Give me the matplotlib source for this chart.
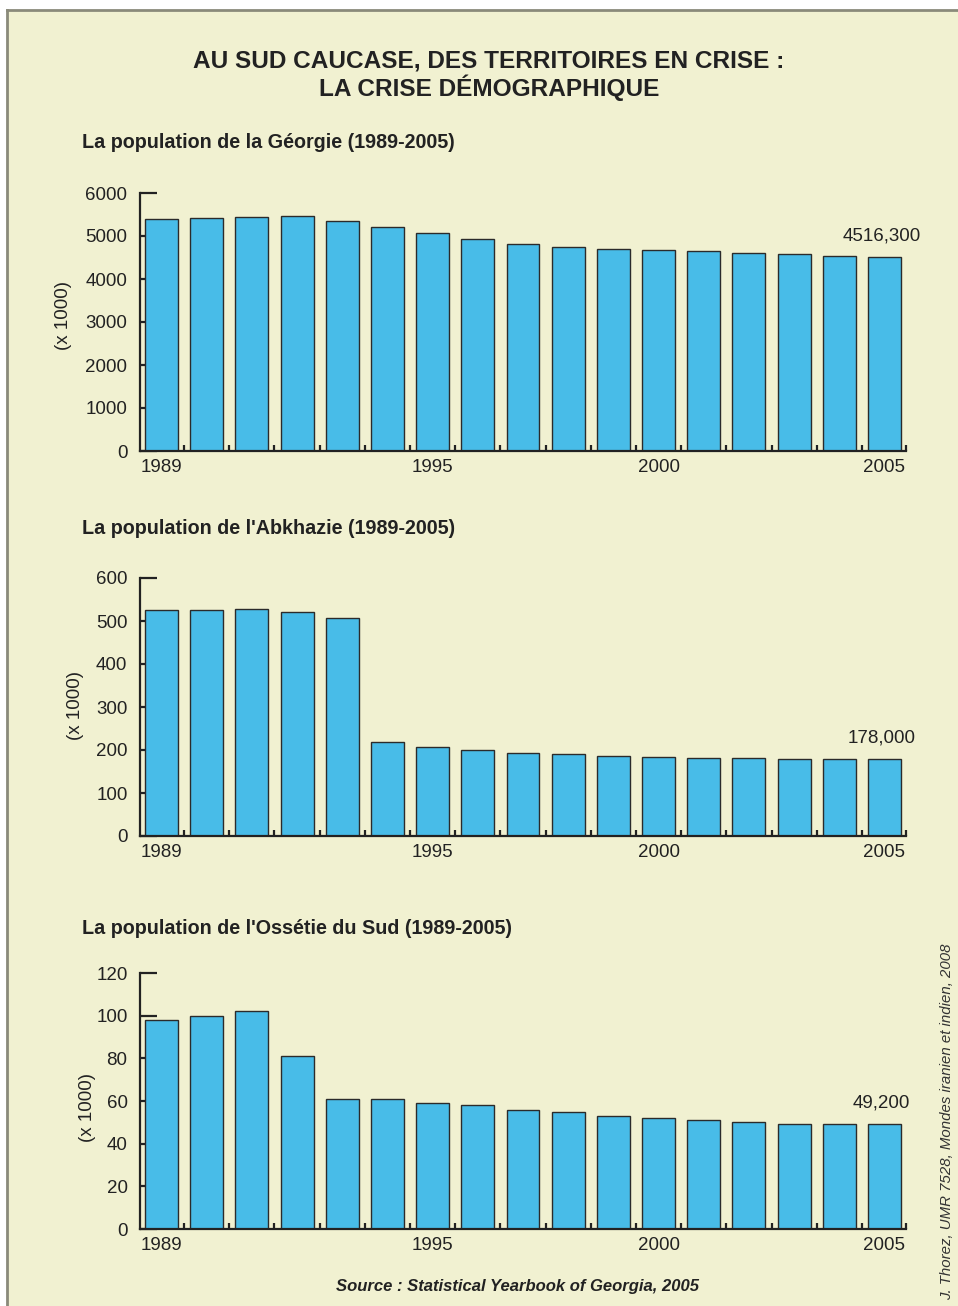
import numpy as np
import matplotlib.pyplot as plt
from matplotlib.patches import Rectangle

plt.rcParams['font.family'] = ['Liberation Sans', 'DejaVu Sans']

# data (x 1000 inhabitants)
years = list(range(1989, 2006))
georgia = [5400.8, 5424.4, 5453.0, 5467.0, 5346.2, 5207.2, 5061.1, 4935.5, 4813.9,
           4751.3, 4709.2, 4671.3, 4645.4, 4614.1, 4580.0, 4542.6, 4516.3]
abkhazia = [525, 525, 527, 522, 506, 218, 208, 200, 194, 190, 187, 184, 182, 181,
            179.5, 178.5, 178]
ossetia = [98, 100, 102, 81, 61, 61, 59, 58, 56, 55, 53, 52, 51, 50, 49.2, 49.2, 49.2]
label_years = [1989, 1995, 2000, 2005]
last_labels = ['4516,300', '178,000', '49,200']
subtitles = ["La population de la Géorgie (1989-2005)",
             "La population de l'Abkhazie (1989-2005)",
             "La population de l'Ossétie du Sud (1989-2005)"]

W, H = 958, 1306
BG = '#F1F1D1'
BAR = '#48BCE8'
DARK = '#222222'

fig = plt.figure(figsize=(W / 100, H / 100), dpi=100)
fig.patch.set_facecolor('white')

def fx(px):
    return px / W

def fy(py):
    return 1 - py / H

# cream panel with grey top/left border
fig.patches.append(Rectangle((fx(7), -0.02), 1.05, fy(10) + 0.02, transform=fig.transFigure,
                             facecolor=BG, edgecolor='none', zorder=-10))
fig.add_artist(plt.Line2D([fx(7), 1], [fy(10), fy(10)], transform=fig.transFigure,
                          color='#8a8a7a', lw=2))
fig.add_artist(plt.Line2D([fx(7), fx(7)], [0, fy(10)], transform=fig.transFigure,
                          color='#8a8a7a', lw=2))

fig.text(fx(489), fy(75), "AU SUD CAUCASE, DES TERRITOIRES EN CRISE :\nLA CRISE DÉMOGRAPHIQUE",
         ha='center', va='center', fontsize=17.6, weight='bold', color=DARK, linespacing=1.1)

charts = [
    (georgia, 6000, 1000, 193, 451, 143, (63, 316)),
    (abkhazia, 600, 100, 578, 836, 529, (75, 706)),
    (ossetia, 120, 20, 973, 1229, 928, (87, 1108)),
]

x = np.arange(len(years))
for k, (vals, ymax, step, top, bot, sub_y, ylab) in enumerate(charts):
    ax = fig.add_axes([fx(140), fy(bot), fx(906) - fx(140), fy(top) - fy(bot)])
    ax.set_facecolor('none')
    ax.set_axisbelow(True)
    ax.bar(x, vals, width=0.73, color=BAR, edgecolor='#2b2b2b', linewidth=1.0)
    ax.set_xlim(-0.476, 16.476)
    ax.set_ylim(0, ymax)
    for s in ['top', 'right']:
        ax.spines[s].set_visible(False)
    for s in ['left', 'bottom']:
        ax.spines[s].set_linewidth(1.6)
        ax.spines[s].set_color(DARK)
    ax.set_yticks(np.arange(0, ymax + step, step))
    ax.tick_params(axis='y', direction='in', length=12, width=1.6, pad=9,
                   labelsize=13.5, color=DARK, labelcolor=DARK)
    ax.set_xticks([years.index(y) for y in label_years])
    ax.set_xticklabels([str(y) for y in label_years])
    ax.tick_params(axis='x', which='major', direction='in', length=0, pad=6,
                   labelsize=13.5, labelcolor=DARK)
    ax.set_xticks(list(np.arange(16) + 0.5) + [16.476], minor=True)
    ax.tick_params(axis='x', which='minor', direction='in', length=4, width=1.6, color=DARK)
    ax.annotate(last_labels[k], (x[-1], vals[-1]), xytext=(-2, 9), textcoords='offset points',
                ha='center', va='bottom', fontsize=13.5, color=DARK)
    fig.text(fx(82), fy(sub_y), subtitles[k], ha='left', va='center', fontsize=14.2,
             weight='bold', color=DARK)
    fig.text(fx(ylab[0]), fy(ylab[1]), '(x 1000)', rotation=90, ha='center', va='center',
             fontsize=13.5, color=DARK)

fig.text(fx(518), fy(1286), 'Source : Statistical Yearbook of Georgia, 2005', ha='center',
         va='center', fontsize=12, weight='bold', style='italic', color=DARK)
fig.text(fx(947), fy(1300), 'J. Thorez, UMR 7528, Mondes iranien et indien, 2008', rotation=90,
         ha='center', va='bottom', fontsize=10.8, style='italic', color='#333333')

fig.savefig('out.png', dpi=100, facecolor=fig.get_facecolor())
